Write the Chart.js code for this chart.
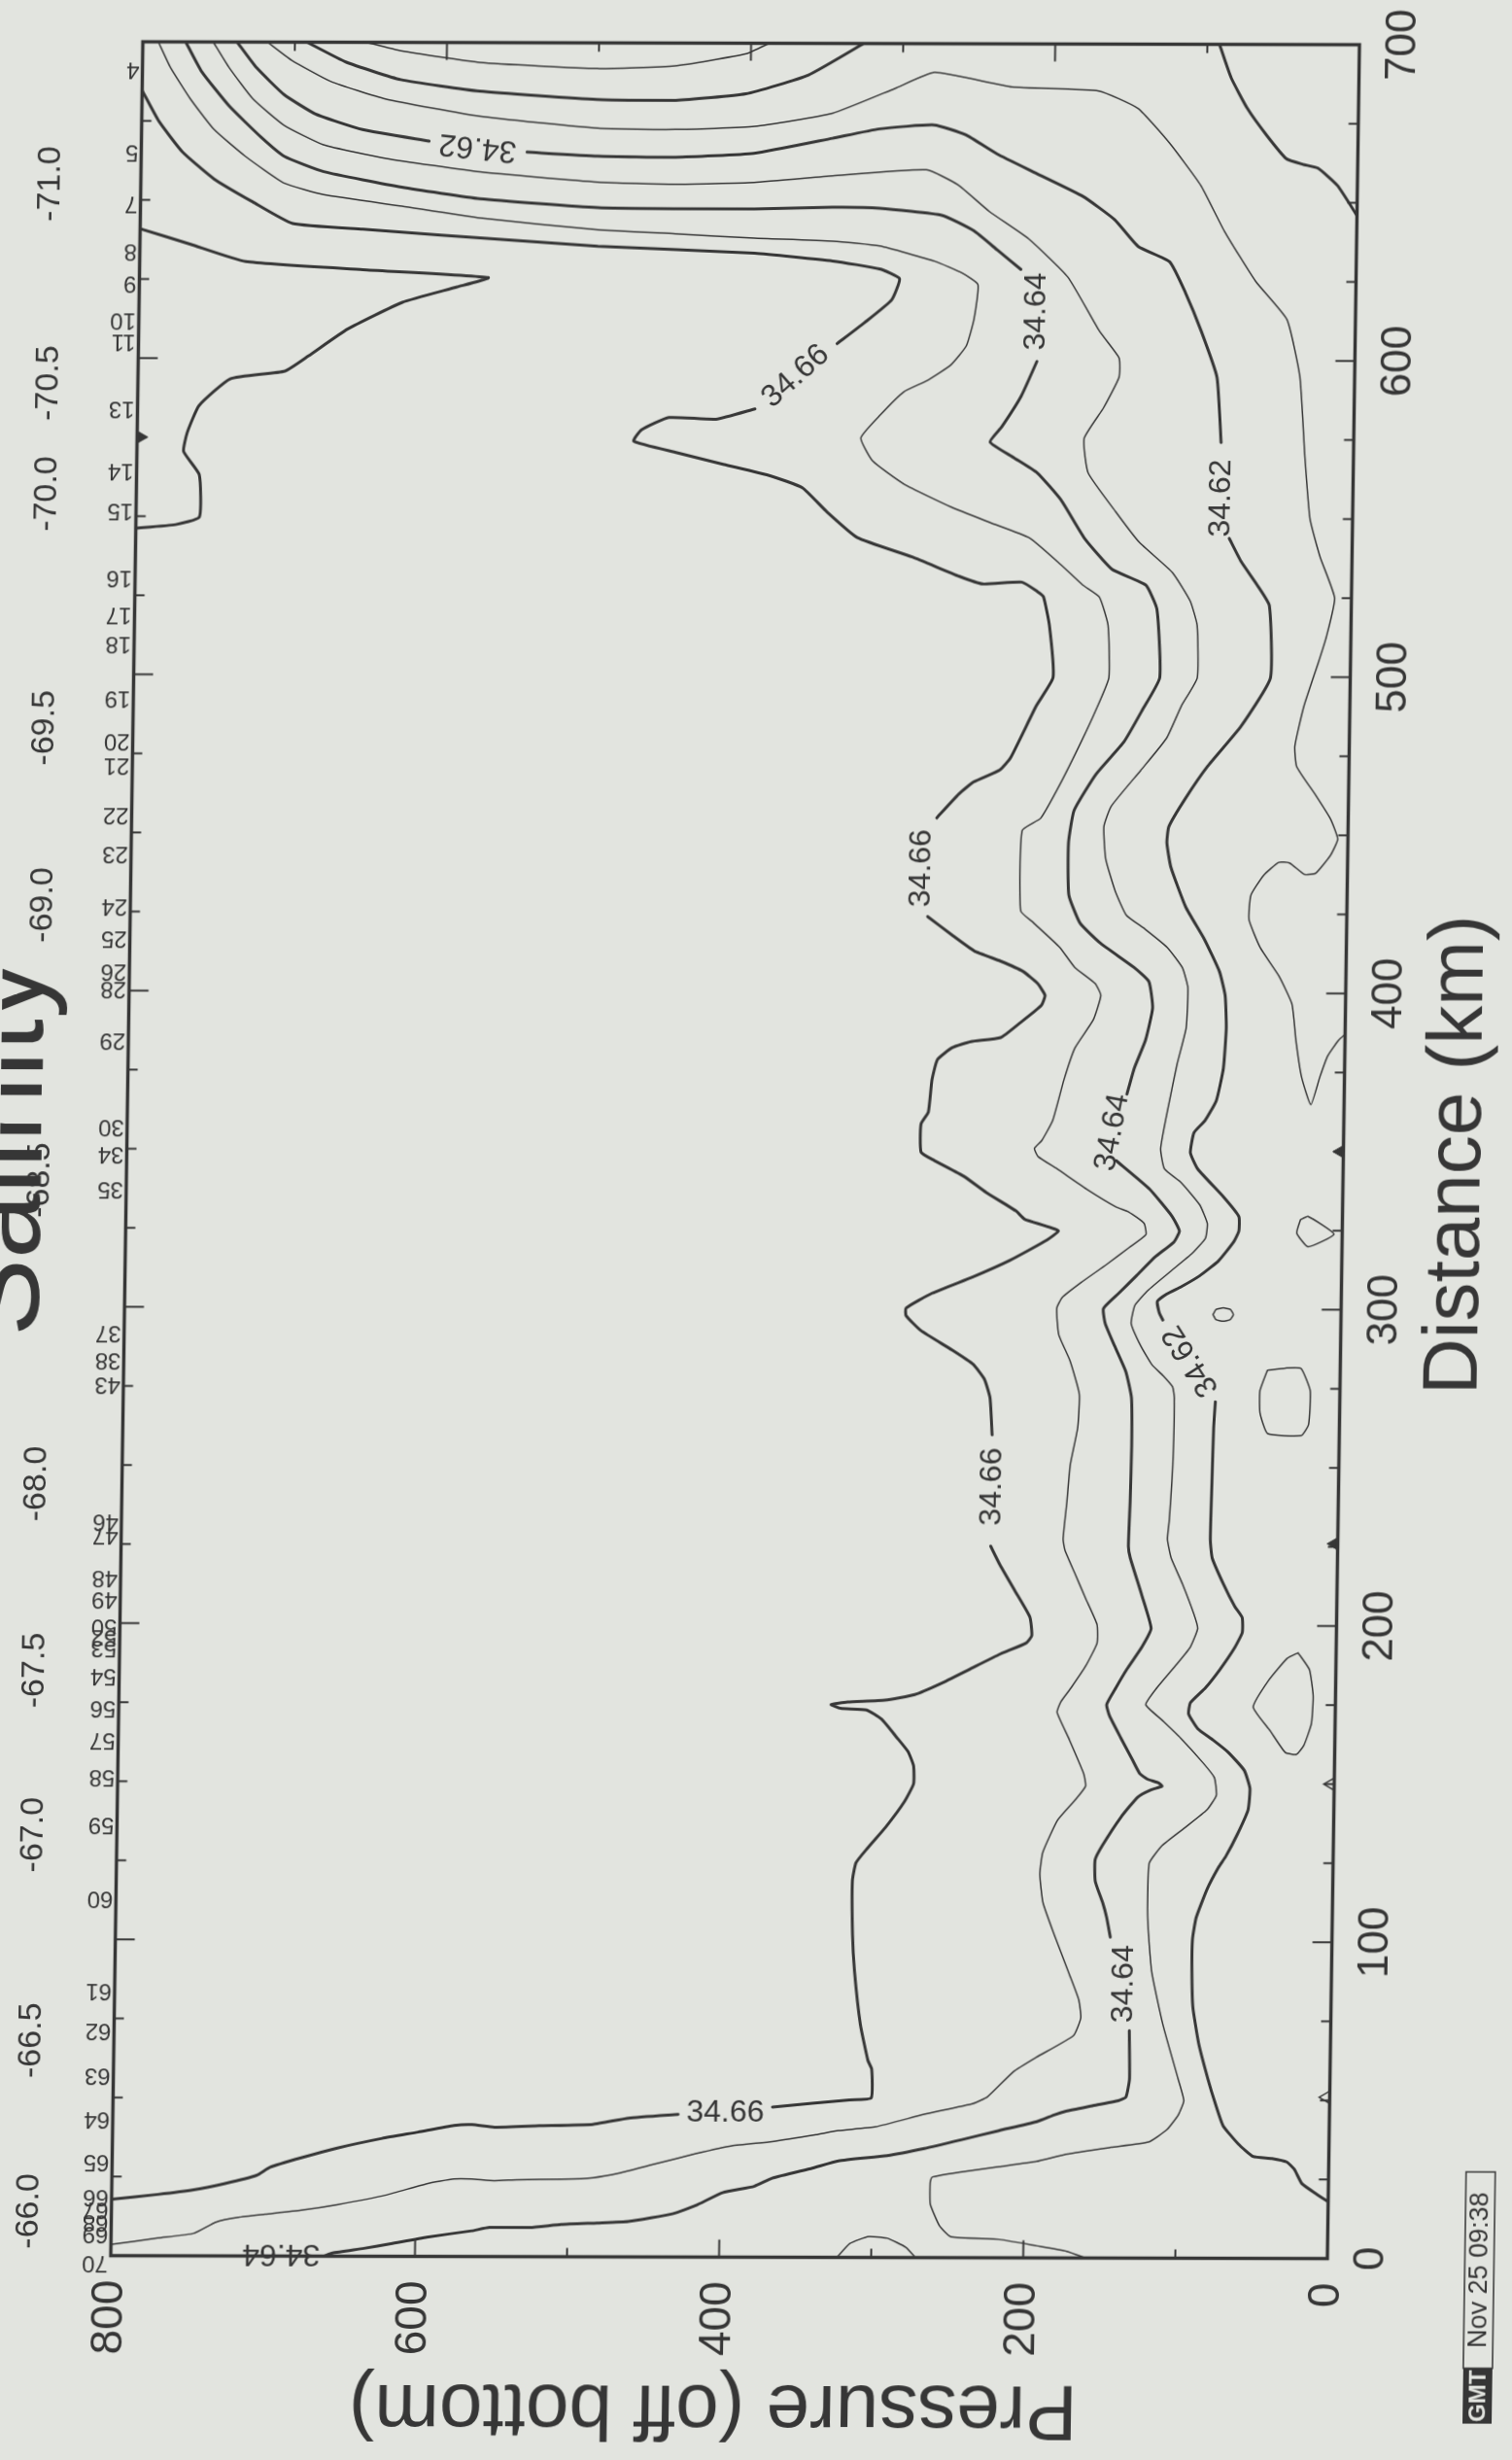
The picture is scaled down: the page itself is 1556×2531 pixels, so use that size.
<!DOCTYPE html>
<html><head><meta charset="utf-8">
<script src="https://cdn.jsdelivr.net/npm/chart.js@4.4.1/dist/chart.umd.min.js"></script>
<style>
html,body{margin:0;padding:0;background:#e2e4df;overflow:hidden}
canvas{display:block;transform:matrix(1,0.0024,-0.0145,1,0,0);transform-origin:756.5px 1183.5px}
</style>
</head><body>
<canvas id="c" width="1556" height="2531" style="width:1556px;height:2531px"></canvas>
<script>
// ---- axis ticks ----
const pressureTicks = [0, 200, 400, 600, 800];
const distanceTicks = [0, 100, 200, 300, 400, 500, 600, 700];

// ---- station numbers (top axis of the original) and their distance (km) ----
const stationNum = ['4','5','7','8','9','10','11','13','14','15','16','17','18','19','20','21','22','23','24','25','26','28','29','30','34','35','37','38','43','46','47','48','49','50','52','53','54','56','57','58','59','60','61','62','63','64','65','66','67','68','69','70'];
const stationKm = [691.4,665.3,649.1,634,623.9,612.2,605.2,584,564.3,551.7,530.8,518.9,509.7,492.5,479,471.3,455.6,443.4,426.8,416.6,406.2,400.7,384.4,357.1,348.5,337.4,292,283.4,275.7,232.4,228.1,214.6,207.6,199,195.6,192.2,183.3,173.2,163,151.4,136.3,113,83.8,71.2,57.1,43.3,29.8,18.7,14.7,10.7,7.1,-2.1];

// ---- latitude labels ----
const latText = ['-71.0','-70.5','-70.0','-69.5','-69.0','-68.5','-68.0','-67.5','-67.0','-66.5','-66.0'];
const latKm = [655,592,557,483,427,340,244,185,133,68,14];

// ---- contour paths: [pressure off bottom, distance km] ----
const s3459 = [[653,700],[630,697.3],[578,693.7],[501,691.9],[450,692.8],[403,696.7],[388,700]];
const s3460a = [[692,700],[666,693.7],[630,688.2],[578,684.6],[501,682.1],[449,681.9],[403,684],[362,690],[326,700]];
const s3460b = [[92,700],[84,689.4],[73,679.7],[60,671.2],[47,663.9],[36,662.1],[26,660.9],[13,655.4],[0,646]];
const s3461a = [[718,700],[702,694.3],[676,687.6],[640,682.1],[578,676.7],[500,673],[449,672.7],[397,673.7],[346,677.9],[305,685.8],[279,690.9],[228,686.4],[171,685.2],[145,679.7],[124,668.8],[103,655.4],[87,640.9],[66,625.1],[45,613],[36,595],[32,570],[28,550],[21,538],[11,525],[16,513],[21,504.8],[30.2,490.8],[35.8,478.1],[34.4,471.7],[21.8,462.8],[11.7,455.2],[6.7,448.8],[11.3,443.7],[20.9,438],[28.2,437.6],[38.1,441.2],[45.4,441.4],[55.1,437.3],[63.3,431],[64.3,423.3],[56.6,414.4],[44.1,405.5],[35.2,396.6],[32.3,385.2],[28.3,373.7],[21.9,364.8],[16.1,373.7],[11.4,380.1],[4.3,385.2],[0,387.1]];
const s3461b = [[27.6,328.4],[22.7,329.5],[5.4,323.9],[22.4,319.9],[29.9,324.2],[27.6,328.4]];
const s3461c = [[84.2,298.4],[82.2,300],[77.5,300.5],[72.8,300],[70.8,298.4],[72.8,296.8],[77.5,296.3],[82.2,296.8],[84.2,298.4]];
const s3461d = [[47.9,280.8],[36,281.5],[25.8,281.4],[19.5,274.3],[20.3,263.7],[25,260.2],[47.2,260.8],[52.3,267.2],[52.6,274.3],[47.9,280.8]];
const s3461e = [[25,191.5],[17.4,186.2],[14.7,177.9],[15.6,169.1],[20.3,162.3],[25.1,159.4],[32.5,160],[42.6,166.8],[54,174.3],[44.2,182.7],[32.2,189.7],[25,191.5]];
const s3462a = [[738,700],[725,691.9],[706.6,683.4],[685.8,677.3],[654.7,672.4],[610.8,668.8]];
const s3462b = [[546.3,665.4],[500,664.2],[448.7,663.9],[397,665.2],[345.6,670],[314.9,673],[278.8,674.3],[258.1,671.2],[237.3,665.2],[211.3,659.1],[180.2,651.8],[159.3,644.5],[143.5,636],[122.7,631.2],[112,621.4],[101.3,609.3],[90.5,594.7],[87.2,574.1]];
const s3462c = [[80.9,543.8],[72.9,536.5],[62,529],[53.9,522.6],[52.5,499.7],[71.4,484.4],[93,471.7],[107.3,461.5],[117.9,452.6],[119,447.5],[116.2,439.9],[106,427.2],[93.4,417],[83.2,406.8],[79.2,399.2],[78.2,389],[79.7,376.2],[84.1,366],[91.3,359.7],[98.4,355.9],[100.6,349.5],[95.6,344.4],[78.2,335.5],[68.1,329.4],[68,324.8],[71.4,321.3],[81,315.4],[93.1,310.7],[105.2,307.2],[114.9,304.8],[120.9,302.5],[119.6,299],[117.1,296.6]];
const s3462d = [[81.8,270.8],[82.7,262.5],[83.3,244.9],[83.8,227.3],[82.4,221.4],[74.8,213.2],[67.1,206.1],[62.1,202.6],[61.9,197.9],[66.6,193.2],[76.2,186.2],[85.7,180.3],[95.4,175.6],[96.4,172.1],[90.2,167.4],[80.2,163.9],[70,160],[59.3,154.3],[55.4,148.6],[56.4,141.8],[63.4,133.9],[70.6,127.1],[75.3,123.6],[82.5,116.8],[89.5,107.7],[91.7,100.9],[91.8,90.7],[90.8,79.3],[86.7,68],[80.2,56.6],[75,48.7],[69.8,41.9],[59.7,36.2],[49.8,32.2],[37.4,31.6],[27.6,30.5],[22.6,28.2],[17.5,23.7],[7.5,20.3],[0,18]];
const s3463a = [[753.7,700],[743,691.9],[727.2,682.1],[706.3,673.7],[680.3,667.6],[638.9,663.3],[576.9,659.1],[499.6,656],[448.5,655.4],[396.6,656],[345.2,658.1],[283.5,660.1],[262.7,655.4],[241.8,647],[215.7,638.4],[189.5,626.3],[168.3,609.3],[155.1,600.8],[154.9,594.7],[164.8,585],[177.3,575.3],[174.3,564.4],[155.9,552.2],[140,542.5],[118,533],[106,524],[101.2,516.3],[100.6,499.7],[110.8,490.8],[120.2,480.6],[136.9,470.4],[156,459],[160.6,452.6],[159.1,442.4],[152.6,432.3],[145,424.6],[132.5,420.2],[117.7,414.4],[107.7,408.1],[103.8,401.7],[104.6,389],[110.2,377.5],[115.8,363.5],[120.2,350.8],[117.5,344.4],[106.4,340.1],[94,333.1],[88.8,327.2],[89.9,322.5],[98.3,317.8],[112.8,311.9],[127.2,306],[135.6,301.3],[137.9,295.5],[131.4,288.4],[123.9,282.5],[116.4,279],[110.1,275.5],[108.8,272],[109.2,250.8],[111,233.2],[112,227.3],[109.4,221.4],[101.7,213.2],[94,203.8],[91.3,199.1],[96,193.2],[105.6,187.3],[117.6,180.3],[124.7,175],[114,170.2],[101.5,164.5],[86.4,156.6],[78.9,152],[77.4,146.4],[83.4,141.8],[97.9,136.1],[112.5,130.5],[120.9,124.8],[121.4,107.7],[118.3,90.7],[110.3,73.7],[99.8,56.6],[95.9,49.8],[99.4,45.3],[106.6,40.7],[118.7,36.7],[143.3,35],[172.7,32.8],[192.2,30.5],[216.7,28.8],[241.2,27.1],[260.8,25.4],[261.9,23.7],[261.6,16.9],[255.3,10],[247.8,6.6],[215.9,5.8],[191.2,3.8],[171.5,2.1],[159.1,0]];
const s3463b = [[322.5,0],[314.1,4.4],[301.9,6.6],[289.6,6.1],[277.2,3.2],[270.9,0]];
const s3464a = [[771.8,700],[761,690.6],[742.5,679.7],[721.5,670],[705.9,663.9],[679.9,659.1],[628.3,654.2],[576.6,650.6],[499.3,647.9],[448.2,647.6],[396.3,647.6],[344.8,648.2],[313.9,647.9],[272.6,645.7],[251.9,640.9],[236.1,634.8],[220.5,628.7]];
const s3464b = [[209.1,599.6],[219,588.7],[231.6,578.9],[239.1,574.1],[223.4,569.2],[207.8,564.4],[192,555.9],[176.2,543.8],[157.8,534],[135.4,529],[127.8,521.4],[125.3,499.7],[136.4,489.5],[148.2,479.4],[166.2,469.2],[180.3,457.7],[183.7,447.5],[183,431],[175.4,422.1],[161.7,415.7],[139.5,408.1],[129.5,403.6],[126.8,395.3],[131.2,385.1],[138.3,376.2],[142.9,368]];
const s3464c = [[149.4,347],[127.1,338],[112,329.4],[107.1,324.8],[110.6,321.3],[122.7,316.6],[134.7,310.7],[146.7,304.9],[156.3,300.2],[155,295.5],[148.6,288.4],[140.9,280.2],[137,272],[136.4,256.7],[136.9,239],[137.6,225],[136.3,221.4],[128.4,209.7],[121.9,199.1],[127.8,193.2],[137.4,186.2],[144.5,180.3],[150.4,175],[148.4,171.4],[140.8,164.5],[133.1,157.7],[128,153.2],[123.1,151.5],[115.6,150.3],[113.2,149.2],[120.4,148.1],[129,145.8],[139.8,139.5],[151.8,130.5],[156.5,125.9],[156.2,119.1],[151.1,112.3],[148.4,107.7],[145.8,101.5]];
const s3464d = [[132.4,71.9],[131.8,56.6],[134,50.9],[138.9,49.8],[156.1,48.1],[173.2,46.4],[180.5,45.3],[192.7,43],[217.2,40.2],[241.6,37.3],[266,34.5],[290.6,32.2],[322.4,30.5],[339.5,28.2],[365.8,25],[377.6,22.4],[398.2,20.4],[415.8,16.3],[430.5,13.7],[459.9,11.2],[480.5,10.7],[504.1,10.2],[524.7,9.2],[551.3,9.2],[563,8.1],[592.4,6.1],[615.9,4],[633.6,2.5],[654.2,1],[660,0]];
const s3465 = [[789.8,700],[781.6,691.9],[768.4,682.1],[752.5,672.4],[731.6,663.9],[705.6,655.4],[679.7,651.8],[628,648.2],[576.4,644.5],[499.1,640.9],[448,639.7],[396,638.4],[344.4,637.5],[313.5,636],[277.2,631.2],[259.1,627.5],[248.6,623.9],[250.8,613],[255.6,604.5],[265.7,598.4],[281,593.5],[296.3,589.9],[311.5,582.6],[324.1,575.3],[316.1,568],[295.2,560.7],[264,553.5],[238.1,548.6],[212.2,543.8],[191.2,535.3],[176.9,529],[165.8,525.2],[159.8,516.3],[158.7,499.7],[166.9,489.5],[176.3,479.4],[190.4,465.4],[202.2,455.2],[214.3,451.3],[214.5,425.9],[205.9,422.1],[188.5,414.4],[178.5,408.1],[164.9,403],[161,399.2],[165.7,391.5],[177.5,382.6],[184.5,372.4],[191.4,359.7],[198.4,353.3],[203.2,350.8],[200.7,348.2],[188.3,344.4],[168.6,338],[148.8,332.3],[140.4,330.7],[130.4,327.2],[129.1,323.6],[140,319.5],[154.5,314.2],[171.3,308.4],[183.5,303.7],[187,300.2],[185.4,291.9],[177.8,283.7],[171.3,273.1],[172.1,262.5],[176.6,250.8],[178.5,239],[180.6,227.3],[179.3,223.8],[172.8,216.7],[165.2,208.5],[157.5,200.3],[157.3,194.4],[164.4,187.3],[173.9,180.3],[180.5,175.9],[182.9,172.5],[175.2,164.5],[164.9,153.2],[163.5,149.2],[169.5,145.2],[181.6,138.4],[191,128.2],[192.7,121.4],[190.4,112.3],[182.6,102.1],[172.3,89.6],[165.9,81.6],[164.4,75.9],[169.1,70.3],[193.4,63.4],[208.1,58.9],[225,50.9],[234.7,48.7],[266.5,45.3],[298.3,41.3],[322.8,40.1],[337.3,38.8],[366.1,36.6],[392.7,35.2],[416.2,32.7],[445.5,29.1],[466.2,26.5],[483.8,25],[504.4,24.5],[533.9,24.3],[548.6,24],[563.4,24.5],[575.2,24.5],[592.8,23],[619.3,19.4],[651.6,16.3],[675.2,14.5],[698.8,13.2],[716.4,12.2],[731.1,10.7],[745.7,7.1],[769.3,5.6],[800,3.5]];
const s3466a = [[800,684.6],[788.7,674.9],[772.9,665.2],[751.9,656.7],[726,649.4],[699.9,642.7],[653.6,640.9],[602,639.1],[498.9,635.7],[395.8,633.6],[344.2,631.2],[313.2,628.7],[300.2,625.7],[305.1,619],[322.9,611.7],[340.6,605.1]];
const s3466b = [[394,584.4],[419.5,581.1],[450.5,581.6],[468.4,577.7],[473.4,574.1],[444.9,570.5],[413.9,566.8],[382.9,563.2],[362.1,559.5],[346.4,552.2],[325.5,543.8],[289.2,537.7],[258.1,531.6],[242.5,529.2],[216.8,529.8],[206.4,526.8],[202.5,525.2],[198.4,516.3],[195.4,499.7],[206.1,490.8],[222.6,474.3],[229.7,470.4],[246.7,466.6],[256.2,462.8],[270.6,455.2]];
const s3466c = [[275.6,424],[259.5,418.2],[244.7,413.2],[227.4,410],[212.6,406.8],[202.8,403],[197.7,399.2],[200,396],[214.5,390.2],[226.5,385.8],[246,384.5],[258.1,382.6],[267.8,378.8],[271.2,372.4],[273.3,362.2],[278,358.4],[277.7,349.5],[269,346.9],[249.3,341.9],[234.4,336.8],[214.7,331],[208.9,328.4],[186.7,324.8],[193.9,321.9],[218.2,315.4],[242.5,310.1],[269.2,304.9],[286.1,300.2],[286,297.8],[276.1,293.1],[256.2,287.2],[241.5,282.5],[233.9,277.8],[230,271.9],[228.3,260.2]];
const s3466d = [[228.2,225],[221.9,219.1],[211.8,210.9],[201.7,202.6],[200.3,196.7],[203.9,194.4],[220.8,190.9],[240.3,186.2],[259.7,181.5],[276.7,178],[296.2,176.2],[320.7,175.6],[331.6,174.8],[325.4,173.6],[308.2,173.1],[298.2,170.2],[288.2,164.5],[280.6,160],[276.8,155.5],[276.6,149.8],[282.5,144.1],[294.5,136.1],[306.5,129.3],[313.7,124.8],[315.9,119.1],[315.3,102.1],[313.7,90.7],[309.3,73.7],[304,62.3],[301.4,59.5],[301.5,50.4],[315.8,49.8],[340.3,48.7],[366.3,47.5]];
const s3466e = [[428.3,45.1],[460.7,43.9],[484.2,41.9],[519.5,41.4],[549,40.9],[563.8,41.7],[575.6,41.4],[599.1,39.3],[622.6,37.3],[652,34.2],[675.6,31.1],[696.1,28.1],[704.9,25.5],[725.5,22.9],[746,20.9],[769.6,19.4],[800,17.8]];
const s3466f = [[800,640.9],[766.7,636],[730.4,630.6],[653.1,628.1],[570.6,625.7],[591.1,622.7],[626.9,617.8],[662.7,609.3],[688.1,600.8],[703.4,596],[739.3,593.5],[759.6,585],[767.1,576.5],[769.3,570.5],[758.8,563.2],[758.3,549.8],[773.7,547.4],[800,546.2]];

const contourLevels = [34.59,34.60,34.60,34.61,34.61,34.61,34.61,34.61,34.62,34.62,34.62,34.62,34.63,34.63,34.64,34.64,34.64,34.64,34.65,34.66,34.66,34.66,34.66,34.66,34.66];
const contourPaths  = [s3459,s3460a,s3460b,s3461a,s3461b,s3461c,s3461d,s3461e,s3462a,s3462b,s3462c,s3462d,s3463a,s3463b,s3464a,s3464b,s3464c,s3464d,s3465,s3466a,s3466b,s3466c,s3466d,s3466e,s3466f];

// ---- contour labels ----
const labelText = ['34.62','34.62','34.62','34.64','34.64','34.64','34.64','34.66','34.66','34.66','34.66'];
const labelPos = [[578.8,667],[86.5,556.5],[98.2,283.7],[209.7,615.4],[152.1,355.9],[136.6,86.7],[688,0.8],[367.5,594.7],[279.8,439.3],[227.7,243.8],[397.3,45.5]];
const labelAngle = [186,-90,-123,-90,-80,-90,180,-42,-90,-90,0];

// ---- bottom-depth markers on the frame (km) ----
const markRightFilled = [350, 226];
const markRightOpen = [150, 51];
const markLeftFilled = [575];

const INK = '#363636';
const BG = '#e2e4df';
const FONT = '"Liberation Sans", Arial, Helvetica, sans-serif';

const datasets = contourPaths.map((pts, i) => {
  const major = Math.round(contourLevels[i] * 100) % 2 === 0;
  return {
    label: String(contourLevels[i]),
    data: pts.map(([p, d]) => ({x: p, y: d})),
    showLine: true, fill: false,
    borderColor: INK, borderWidth: major ? 3 : 1.5,
    pointRadius: 0, tension: 0.15,
    borderCapStyle: 'round', borderJoinStyle: 'round'
  };
});
datasets.push({label:'mR', data: markRightFilled.map(d => ({x: 2.5, y: d})), showLine:false, pointStyle:'triangle', pointRadius:7, rotation:-90, backgroundColor:INK, borderColor:INK, borderWidth:1, clip:false});
datasets.push({label:'mO', data: markRightOpen.map(d => ({x: 2.5, y: d})), showLine:false, pointStyle:'triangle', pointRadius:7, rotation:-90, backgroundColor:BG, borderColor:INK, borderWidth:1.5, clip:false});
datasets.push({label:'mL', data: markLeftFilled.map(d => ({x: 797.5, y: d})), showLine:false, pointStyle:'triangle', pointRadius:7, rotation:90, backgroundColor:INK, borderColor:INK, borderWidth:1, clip:false});

function rotText(ctx, t, x, y, deg, align, base) {
  ctx.save(); ctx.translate(x, y); ctx.rotate(deg * Math.PI / 180);
  ctx.textAlign = align || 'center'; ctx.textBaseline = base || 'middle';
  ctx.fillText(t, 0, 0); ctx.restore();
}

const deco = {
  id: 'deco',
  afterDatasetsDraw(chart) {
    const {ctx, chartArea: a, scales: {x, y}} = chart;
    ctx.save();
    ctx.strokeStyle = INK; ctx.fillStyle = INK;
    const seg = (x1, y1, x2, y2) => { ctx.beginPath(); ctx.moveTo(x1, y1); ctx.lineTo(x2, y2); ctx.stroke(); };
    // ticks
    ctx.lineWidth = 2;
    for (let p = 0; p <= 800; p += 100) {
      const px = x.getPixelForValue(p), L = (p % 200 === 0) ? 18 : 9;
      seg(px, a.bottom, px, a.bottom - L); seg(px, a.top, px, a.top + L);
    }
    for (let d = 0; d <= 700; d += 25) {
      const py = y.getPixelForValue(d), L = (d % 100 === 0) ? 20 : 10;
      seg(a.left, py, a.left + L, py); seg(a.right, py, a.right - L, py);
    }
    // contour labels
    ctx.font = '32px ' + FONT;
    labelText.forEach((t, i) => {
      rotText(ctx, t, x.getPixelForValue(labelPos[i][0]), y.getPixelForValue(labelPos[i][1]), labelAngle[i]);
    });
    // frame
    ctx.lineWidth = 3.5;
    ctx.strokeRect(a.left, a.top, a.right - a.left, a.bottom - a.top);
    // pressure tick labels
    ctx.font = '46px ' + FONT;
    pressureTicks.forEach(p => rotText(ctx, String(p), x.getPixelForValue(p), a.bottom + 25, -90, 'right', 'middle'));
    // distance tick labels
    ctx.font = '44px ' + FONT;
    distanceTicks.forEach(d => rotText(ctx, String(d), a.right + 57, y.getPixelForValue(d), -90, 'center', 'alphabetic'));
    // latitude labels
    ctx.font = '34px ' + FONT;
    latText.forEach((t, i) => {
      const py = y.getPixelForValue(latKm[i]);
      rotText(ctx, t, 37 + 0.004 * py, py, -90, 'center', 'middle');
    });
    // station numbers (upside down)
    ctx.font = '24px ' + FONT;
    stationNum.forEach((t, i) => rotText(ctx, t, a.left - 3, y.getPixelForValue(stationKm[i]), 180, 'left', 'middle'));
    // axis titles
    ctx.font = '80px ' + FONT;
    rotText(ctx, 'Pressure (off bottom)', (a.left + a.right) / 2 - 4, 2477, 180, 'center', 'middle');
    rotText(ctx, 'Distance (km)', a.right + 140, (a.top + a.bottom) / 2 + 3, -90, 'center', 'alphabetic');
    ctx.font = '120px ' + FONT;
    rotText(ctx, 'Salinity', 42, (a.top + a.bottom) / 2, -90, 'center', 'alphabetic');
    // GMT stamp
    ctx.save(); ctx.translate(1539, 2363); ctx.rotate(-Math.PI / 2);
    ctx.fillStyle = INK; ctx.fillRect(-129, -15, 57, 30);
    ctx.lineWidth = 1.5; ctx.strokeRect(-72, -15, 202, 30);
    ctx.font = 'bold 24px ' + FONT; ctx.fillStyle = BG; ctx.textAlign = 'center'; ctx.textBaseline = 'middle';
    ctx.fillText('GMT', -100.5, 1);
    ctx.fillStyle = INK; ctx.font = '27px ' + FONT;
    ctx.fillText('Nov 25 09:38', 29, 1);
    ctx.restore();
    ctx.restore();
  }
};

new Chart(document.getElementById('c'), {
  type: 'scatter',
  data: {datasets},
  options: {
    responsive: false, animation: false, devicePixelRatio: 1,
    layout: {padding: {left: 130.5, right: 173.5, top: 44.5, bottom: 208.5}},
    plugins: {legend: {display: false}, tooltip: {enabled: false}},
    scales: {
      x: {type: 'linear', min: 0, max: 800, reverse: true, display: false},
      y: {type: 'linear', min: 0, max: 700, display: false}
    }
  },
  plugins: [deco]
});
</script>
</body></html>
